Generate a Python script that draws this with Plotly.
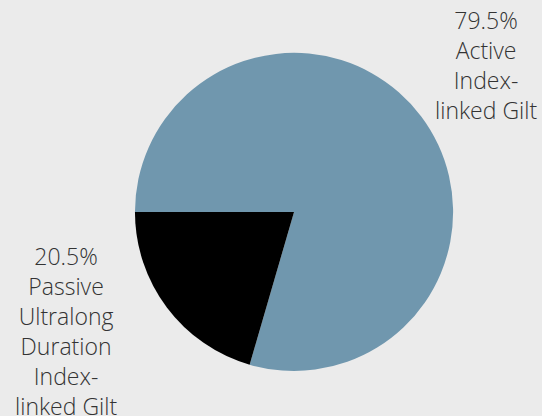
import plotly.graph_objects as go

labels = ["Active Index-linked Gilt", "Passive Ultralong Duration Index-linked Gilt"]
display_text = ["79.5%<br>Active<br>Index-<br>linked Gilt",
                "20.5%<br>Passive<br>Ultralong<br>Duration<br>Index-<br>linked Gilt"]
values = [79.5, 20.5]
colors = ["#7097ae", "#000000"]

fig = go.Figure(go.Pie(
    labels=labels,
    values=values,
    textinfo="none",
    sort=False,
    direction="clockwise",
    rotation=-90,
    marker=dict(colors=colors, line=dict(width=0)),
    showlegend=False,
    domain=dict(x=[0.249, 0.836], y=[0.108, 0.873]),
    hoverinfo="label+percent",
))

label_pos = [(486 / 542, 1 - 2 / 416), (66 / 542, 1 - 238 / 416)]
for txt, (px, py) in zip(display_text, label_pos):
    fig.add_annotation(
        text=txt, x=px, y=py, xref="paper", yref="paper",
        xanchor="center", yanchor="top", showarrow=False, align="center",
        font=dict(family="Open Sans", size=23, color="#333333", weight=300),
    )

fig.update_layout(
    width=542, height=416,
    margin=dict(l=0, r=0, t=0, b=0),
    paper_bgcolor="#ebebeb",
    plot_bgcolor="#ebebeb",
)

fig.write_html("out.html", config={"displayModeBar": False},
               post_script="document.body.style.margin='0';")
